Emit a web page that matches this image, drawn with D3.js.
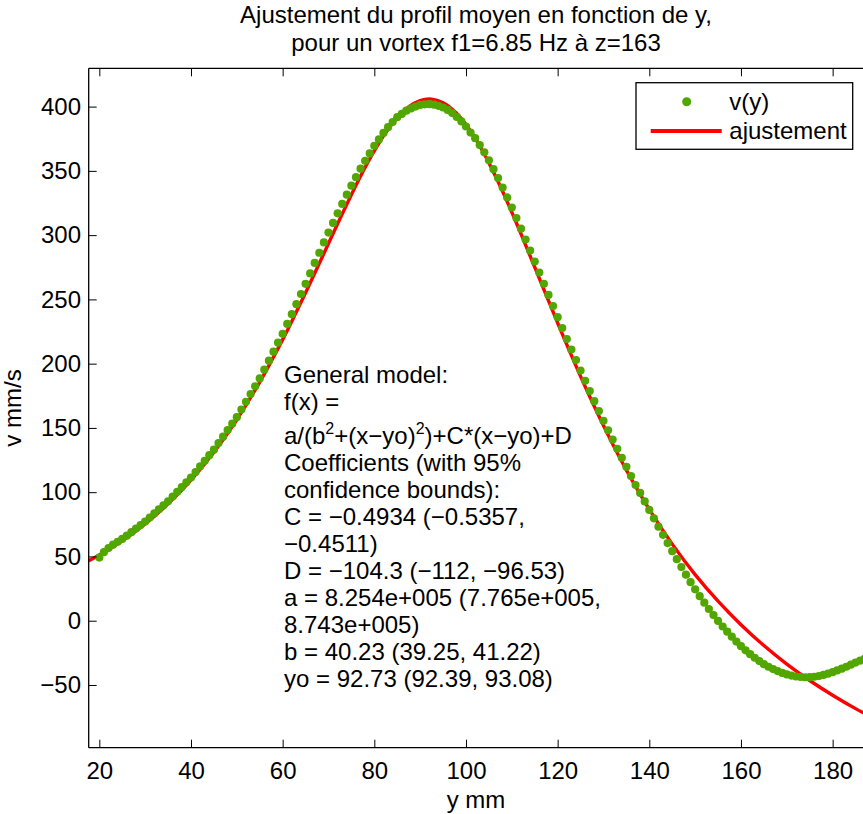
<!DOCTYPE html>
<html>
<head>
<meta charset="utf-8">
<script src="https://cdn.jsdelivr.net/npm/d3@7"></script>
<style>
  html, body { margin: 0; padding: 0; background: #fff; }
  svg { display: block; font-family: "Liberation Sans", Arial, Helvetica, sans-serif; }
</style>
</head>
<body>
<svg id="chart" width="863" height="814"></svg>
<script>
// ---------------- DATA ----------------
const titleLines = ["Ajustement du profil moyen en fonction de y,", "pour un vortex f1=6.85 Hz à z=163"];
const xLabel = "y mm";
const yLabel = "v mm/s";
const xTicks = [20, 40, 60, 80, 100, 120, 140, 160, 180];
const yTicks = [-50, 0, 50, 100, 150, 200, 250, 300, 350, 400];
const xDomain = [17.68, 190];
const yDomain = [-98.8, 429.8];

// measured profile v(y), one point per mm from y = 20 to 187
const measX = d3.range(20, 188);
const measV = [
  49.1, 53.3, 56.5, 59.2, 61.4, 63.6, 66.2, 68.9, 71.7, 74.4,
  77.1, 80.3, 83.5, 86.7, 89.8, 92.9, 96.6, 100.3, 104.0, 107.7,
  111.4, 115.7, 120.1, 124.4, 128.8, 133.1, 138.2, 143.2, 148.3, 153.3,
  158.4, 164.3, 170.3, 176.4, 182.4, 188.5, 195.3, 202.3, 209.3, 216.3,
  223.2, 230.9, 238.5, 246.3, 254.2, 262.1, 270.2, 278.4, 286.3, 294.3,
  302.0, 309.5, 317.0, 324.3, 331.5, 338.5, 345.1, 351.7, 357.8, 363.6,
  369.5, 374.5, 379.5, 384.0, 388.0, 391.8, 394.3, 396.8, 398.6, 400.0,
  401.3, 401.8, 401.9, 401.5, 400.6, 399.3, 397.4, 395.0, 392.0, 388.5,
  384.5, 379.8, 375.4, 370.1, 364.4, 358.2, 351.3, 344.4, 337.0, 329.3,
  321.5, 313.3, 305.0, 296.6, 288.0, 279.5, 270.9, 262.1, 253.5, 244.8,
  236.2, 227.7, 219.2, 211.0, 202.8, 194.6, 186.7, 178.7, 170.8, 163.1,
  155.5, 148.2, 140.9, 133.8, 126.8, 119.7, 112.6, 105.6, 99.4, 92.8,
  86.2, 79.7, 73.2, 66.8, 60.4, 54.1, 47.9, 41.8, 35.8, 30.0,
  24.4, 19.1, 14.0, 9.1, 4.4, -0.2, -4.5, -8.5, -12.4, -16.2,
  -19.8, -23.0, -26.0, -28.8, -31.4, -33.8, -35.8, -37.6, -39.2, -40.6,
  -41.8, -42.7, -43.4, -43.8, -44.0, -43.9, -43.6, -43.0, -42.2, -41.2,
  -40.0, -38.7, -37.3, -35.8, -34.2, -32.6, -31.0, -29.4
];

// fitted curve ("ajustement")
const fitX = [17.7, 20, 25, 30, 35, 40, 45, 50, 55, 60, 62.5, 65, 67.5, 70, 72.5, 75, 77.5, 80,
  82.5, 85, 87.5, 90, 92.5, 95, 97.5, 100, 102.5, 105, 107.5, 110, 112.5, 115, 117.5, 120,
  122.5, 125, 127.5, 130, 132.5, 135, 140, 145, 150, 155, 160, 165, 170, 175, 180, 185, 190];
const fitV = [46.6, 51.1, 62.1, 75.3, 90.9, 109.4, 131.1, 156.4, 185.7, 218.7, 236.6, 255.1, 274.2,
  293.5, 312.7, 331.5, 349.3, 365.5, 379.8, 391.3, 399.8, 404.7, 405.8, 403.0, 396.3, 386.0,
  372.5, 356.2, 337.8, 317.8, 296.7, 275.1, 253.3, 231.7, 210.5, 190.1, 170.5, 151.8, 134.0,
  117.2, 86.6, 59.6, 35.9, 15.2, -3.1, -19.3, -33.7, -46.5, -58.0, -68.4, -77.8];

const legendLabels = ["v(y)", "ajustement"];
const annotation = [
  "General model:",
  "f(x) =",
  [["a/(b", 0], ["2", 1], ["+(x\u2212yo)", 2], ["2", 1], [")+C*(x\u2212yo)+D", 2]],
  "Coefficients (with 95%",
  "confidence bounds):",
  "C = \u22120.4934 (\u22120.5357,",
  "\u22120.4511)",
  "D = \u2212104.3 (\u2212112, \u221296.53)",
  "a = 8.254e+005 (7.765e+005,",
  "8.743e+005)",
  "b = 40.23 (39.25, 41.22)",
  "yo = 92.73 (92.39, 93.08)"
];

// ---------------- LAYOUT ----------------
const GREEN = "#52a600";
const RED = "#ff0000";
const FS = 24;
const plot = { left: 88.7, top: 68.3, bottom: 747.7 };
const pxPerUnit = 4.5831;
const svg = d3.select("#chart");

const x = d3.scaleLinear().domain(xDomain)
  .range([plot.left, plot.left + (xDomain[1] - xDomain[0]) * pxPerUnit]);
const y = d3.scaleLinear().domain(yDomain).range([plot.bottom, plot.top]);

svg.append("defs").append("clipPath").attr("id", "clip")
  .append("rect").attr("x", plot.left).attr("y", plot.top)
  .attr("width", 900).attr("height", plot.bottom - plot.top);

// fit line
const line = d3.line().x((d, i) => x(fitX[i])).y(d => y(d)).curve(d3.curveCatmullRom);
const gData = svg.append("g").attr("clip-path", "url(#clip)");
gData.append("path").datum(fitV).attr("d", line)
  .attr("fill", "none").attr("stroke", RED).attr("stroke-width", 3.4);

// measured dots
gData.selectAll("circle.m").data(measV).enter().append("circle")
  .attr("class", "m")
  .attr("cx", (d, i) => x(measX[i])).attr("cy", d => y(d))
  .attr("r", 4.1).attr("fill", GREEN);

// axes
const gx = svg.append("g").attr("transform", `translate(0,${plot.bottom})`)
  .call(d3.axisBottom(x).tickValues(xTicks).tickSize(-8).tickPadding(14));
const gxt = svg.append("g").attr("transform", `translate(0,${plot.top})`)
  .call(d3.axisTop(x).tickValues(xTicks).tickSize(-8).tickFormat(""));
const gy = svg.append("g").attr("transform", `translate(${plot.left},0)`)
  .call(d3.axisLeft(y).tickValues(yTicks).tickSize(-8).tickPadding(7.7));
[gx, gxt, gy].forEach(g => {
  g.select(".domain").remove();
  g.selectAll(".tick line").attr("stroke", "#000").attr("stroke-width", 1);
  g.selectAll(".tick text").attr("font-size", FS).attr("fill", "#000")
    .attr("font-family", "Liberation Sans, Arial, sans-serif");
});
// box lines
svg.append("path")
  .attr("d", `M${plot.left},${plot.bottom}H870M${plot.left},${plot.top}H870M${plot.left},${plot.top}V${plot.bottom}`)
  .attr("stroke", "#000").attr("stroke-width", 1.3).attr("fill", "none");

// title
svg.selectAll("text.title").data(titleLines).enter().append("text")
  .attr("class", "title").attr("x", 476).attr("y", (d, i) => 23 + i * 28)
  .attr("text-anchor", "middle").attr("font-size", FS).text(d => d);

// axis labels
svg.append("text").attr("x", 476).attr("y", 808).attr("text-anchor", "middle")
  .attr("font-size", FS).text(xLabel);
svg.append("text").attr("transform", "translate(21,408) rotate(-90)")
  .attr("text-anchor", "middle").attr("font-size", FS).text(yLabel);

// annotation
const lineY = [383, 410, 444, 471, 498, 525, 552, 579, 606, 633, 660, 687];
annotation.forEach((ln, i) => {
  const t = svg.append("text").attr("x", 284).attr("y", lineY[i]).attr("font-size", FS);
  if (typeof ln === "string") { t.text(ln); }
  else {
    // kind: 0 normal, 1 superscript, 2 normal after superscript
    ln.forEach(([s, kind]) => {
      t.append("tspan").text(s)
        .attr("font-size", kind === 1 ? 16 : FS)
        .attr("dy", kind === 1 ? -10 : kind === 2 ? 10 : 0);
    });
  }
});

// legend
const lg = svg.append("g");
lg.append("rect").attr("x", 636).attr("y", 82.7).attr("width", 216.7).attr("height", 66.6)
  .attr("fill", "#fff").attr("stroke", "#000").attr("stroke-width", 1.3);
lg.append("circle").attr("cx", 686.7).attr("cy", 101.7).attr("r", 4.5).attr("fill", GREEN);
lg.append("line").attr("x1", 650.7).attr("x2", 721.7).attr("y1", 131).attr("y2", 131)
  .attr("stroke", RED).attr("stroke-width", 4);
lg.selectAll("text").data(legendLabels).enter().append("text")
  .attr("x", 729.3).attr("y", (d, i) => 109.5 + i * 29.5).attr("font-size", FS).text(d => d);
</script>
</body>
</html>
